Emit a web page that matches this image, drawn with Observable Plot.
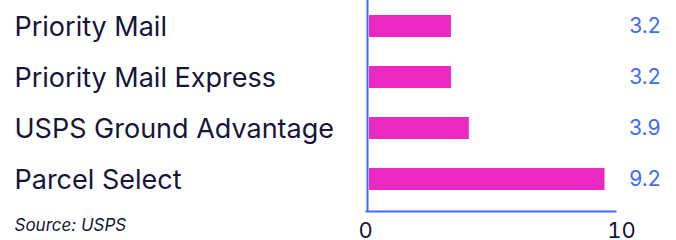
<!DOCTYPE html>
<html>
<head>
<meta charset="utf-8">
<script src="https://cdn.jsdelivr.net/npm/d3@7"></script>
<script src="https://cdn.jsdelivr.net/npm/@observablehq/plot@0.6"></script>
<style>
  html, body { margin: 0; padding: 0; background: #ffffff; }
  #chart svg { display: block; }
</style>
</head>
<body>
<div id="chart"></div>
<script>
const categories = ["Priority Mail", "Priority Mail Express", "USPS Ground Advantage", "Parcel Select"];
const values = [3.2, 3.2, 3.9, 9.2];
const xTicks = [0, 10];
const valueLabels = ["3.2", "3.2", "3.9", "9.2"];
const source = "Source: USPS";

const data = categories.map((c, i) => ({ category: c, value: values[i], label: valueLabels[i] }));

const pink = "#ec28c3";
const blue = "#3d6df2";
const ink = "#15163a";

const chart = Plot.plot({
  width: 676,
  height: 240,
  marginLeft: 369,
  marginRight: 51,
  marginTop: 0,
  marginBottom: 29,
  style: { fontFamily: "Inter, 'Noto Sans', sans-serif", background: "#ffffff", overflow: "visible" },
  x: { domain: [0, 10], axis: null },
  y: { domain: categories, axis: null, paddingInner: 0.56, paddingOuter: 0.32, align: 0.42 },
  marks: [
    Plot.barX(data, { x: "value", y: "category", fill: pink }),
    Plot.ruleX([0], { dx: -2, stroke: blue, strokeWidth: 2 }),
    Plot.frame({ anchor: "bottom", stroke: blue, strokeWidth: 2, insetLeft: -3, insetRight: 10 }),
    Plot.axisX({ ticks: xTicks, tickSize: 0, tickPadding: 11, dx: -4, fontSize: 22, color: ink, label: null, tickFormat: d => String(d) }),
    Plot.text(data, { y: "category", text: "category", frameAnchor: "left", dx: -355, dy: 1, textAnchor: "start", fontSize: 27, fill: ink }),
    Plot.text(data, { y: "category", text: "label", frameAnchor: "right", dx: 35, textAnchor: "end", fontSize: 21, fill: blue }),
    Plot.text([source], { frameAnchor: "bottom-left", dx: -355, dy: 19, textAnchor: "start", fontSize: 17, fontStyle: "italic", fill: ink })
  ]
});

document.getElementById("chart").append(chart);
</script>
</body>
</html>
